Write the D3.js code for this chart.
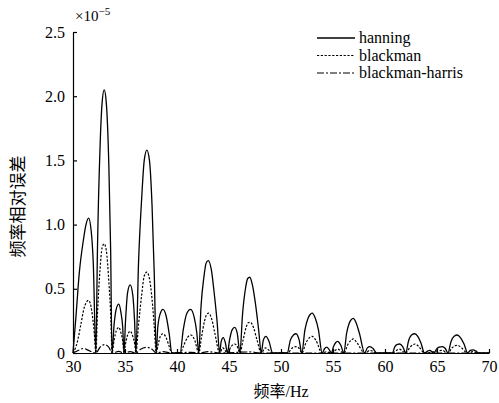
<!DOCTYPE html>
<html>
<head>
<meta charset="utf-8">
<script src="https://cdn.jsdelivr.net/npm/d3@7"></script>
<style>
  body { margin: 0; background: #fff; }
  text { font-family: "Liberation Serif", "Noto Sans CJK SC", serif; fill: #000; }
</style>
</head>
<body>
<script>
//---------------------------------- data (values in units of 1e-5)
var xTicks = [30, 35, 40, 45, 50, 55, 60, 65, 70];
var yTicks = [0, 0.5, 1.0, 1.5, 2.0, 2.5];
var seriesNames = ["hanning", "blackman", "blackman-harris"];

var hanning = [
  [30.0,0],[30.3,0.3],[30.6,0.62],[31.0,0.88],[31.25,1.0],[31.5,1.05],[31.75,0.95],[31.95,0.7],[32.2,0],
  [32.35,0.8],[32.6,1.6],[32.8,1.95],[33.0,2.05],[33.2,1.95],[33.45,1.45],[33.62,0.8],[33.75,0],
  [33.95,0.22],[34.15,0.34],[34.4,0.38],[34.6,0.32],[34.78,0.2],[34.9,0],
  [35.05,0.25],[35.25,0.47],[35.5,0.53],[35.75,0.45],[35.92,0.25],[36.05,0],
  [36.3,0.7],[36.6,1.2],[36.85,1.5],[37.1,1.58],[37.35,1.5],[37.6,1.15],[37.82,0.6],[38.0,0],
  [38.15,0.2],[38.4,0.31],[38.65,0.34],[38.95,0.29],[39.25,0.15],[39.5,0],[40.3,0],
  [40.6,0.18],[40.95,0.31],[41.3,0.34],[41.65,0.28],[41.9,0.16],[42.1,0],
  [42.3,0.35],[42.6,0.6],[42.8,0.7],[43.0,0.72],[43.3,0.65],[43.6,0.45],[43.85,0.25],[44.1,0],
  [44.25,0.09],[44.45,0.12],[44.65,0.08],[44.85,0],
  [45.05,0.1],[45.3,0.18],[45.55,0.2],[45.8,0.15],[46.05,0],
  [46.3,0.3],[46.6,0.51],[46.8,0.58],[47.0,0.59],[47.25,0.53],[47.55,0.38],[47.85,0.18],[48.1,0],
  [48.3,0.1],[48.55,0.13],[48.85,0.09],[49.2,0],[50.6,0],
  [50.9,0.1],[51.2,0.14],[51.45,0.15],[51.75,0.1],[52.0,0],
  [52.3,0.18],[52.6,0.27],[52.8,0.3],[53.0,0.31],[53.3,0.27],[53.6,0.18],[53.95,0],
  [54.2,0.035],[54.4,0.045],[54.6,0.03],[54.85,0],
  [55.05,0.05],[55.25,0.08],[55.45,0.09],[55.75,0.06],[56.05,0],
  [56.3,0.15],[56.55,0.23],[56.75,0.26],[56.95,0.27],[57.2,0.24],[57.55,0.15],[58.05,0],
  [58.3,0.04],[58.55,0.05],[58.85,0.035],[59.2,0],[60.7,0],
  [60.95,0.05],[61.2,0.068],[61.4,0.07],[61.7,0.05],[62.0,0],
  [62.25,0.09],[62.55,0.14],[62.85,0.15],[63.15,0.13],[63.45,0.08],[63.8,0],
  [64.1,0.015],[64.3,0.02],[64.7,0],
  [64.95,0.03],[65.2,0.045],[65.5,0.05],[65.8,0.035],[66.05,0],
  [66.35,0.09],[66.65,0.13],[66.95,0.14],[67.25,0.12],[67.6,0.07],[67.95,0],
  [68.2,0.02],[68.45,0.025],[68.75,0.015],[69.0,0],[70.0,0]
];

var blackman = [
  [30.0,0],[30.4,0.08],[30.75,0.22],[31.1,0.36],[31.5,0.41],[31.8,0.33],[32.05,0.15],[32.2,0],
  [32.35,0.3],[32.6,0.65],[32.8,0.82],[33.0,0.85],[33.2,0.8],[33.45,0.55],[33.65,0.25],[33.75,0],
  [33.95,0.1],[34.15,0.17],[34.4,0.2],[34.6,0.16],[34.8,0.08],[34.9,0],
  [35.05,0.07],[35.25,0.14],[35.5,0.17],[35.75,0.13],[35.95,0.06],[36.05,0],
  [36.3,0.22],[36.6,0.45],[36.85,0.6],[37.1,0.63],[37.35,0.58],[37.6,0.42],[37.82,0.2],[38.0,0],
  [38.2,0.07],[38.4,0.13],[38.65,0.15],[38.95,0.12],[39.25,0.05],[39.5,0],[40.3,0],
  [40.65,0.06],[41.0,0.12],[41.35,0.14],[41.7,0.1],[42.1,0],
  [42.35,0.12],[42.65,0.25],[42.85,0.3],[43.05,0.31],[43.35,0.26],[43.65,0.15],[44.1,0],
  [44.4,0.04],[44.85,0],[45.2,0.05],[45.55,0.07],[45.8,0.05],[46.05,0],
  [46.35,0.1],[46.65,0.2],[46.85,0.235],[47.05,0.24],[47.35,0.2],[47.7,0.1],[48.1,0],
  [48.5,0.04],[49.2,0],[50.6,0],
  [51.1,0.04],[51.45,0.05],[51.8,0.03],[52.0,0],
  [52.4,0.08],[52.75,0.12],[53.0,0.13],[53.35,0.1],[53.95,0],
  [54.4,0.01],[54.8,0],[55.45,0.03],[56.05,0],
  [56.45,0.07],[56.75,0.1],[56.95,0.11],[57.3,0.08],[58.05,0],
  [58.55,0.02],[59.2,0],[60.7,0],
  [61.35,0.03],[62.0,0],
  [62.4,0.045],[62.7,0.065],[62.9,0.07],[63.25,0.05],[63.8,0],
  [65.5,0.02],[66.05,0],
  [66.45,0.04],[66.75,0.058],[66.95,0.06],[67.3,0.045],[67.95,0],
  [68.45,0.01],[69.0,0],[70.0,0]
];

var blackmanHarris = [
  [30.0,0],[30.5,0.02],[31.0,0.035],[31.5,0.02],[32.2,0],
  [32.6,0.045],[33.0,0.065],[33.4,0.05],[33.8,0],
  [34.4,0.012],[34.9,0],[35.5,0.01],[36.05,0],
  [36.5,0.03],[37.1,0.045],[37.6,0.03],[38.0,0],
  [38.65,0.01],[39.5,0],[41.35,0.005],[42.1,0],
  [43.0,0.01],[44.1,0],[47.0,0.008],[48.1,0],[70.0,0]
];

//---------------------------------- chart
var ancho = 499, alto = 403;
var margenes = {top: 32, left: 73, right: 10, bottom: 50};
var w = ancho - margenes.left - margenes.right;
var h = alto - margenes.top - margenes.bottom;

var svg = d3.select("body").append("svg")
  .attr("width", ancho)
  .attr("height", alto);

var x = d3.scaleLinear().domain([30, 70]).range([0, w]);
var y = d3.scaleLinear().domain([0, 2.5]).range([h, 0]);

var g = svg.append("g")
  .attr("transform", "translate(" + margenes.left + "," + margenes.top + ")");

var line = d3.line()
  .x(function (d) { return x(d[0]); })
  .y(function (d) { return y(d[1]); })
  .curve(d3.curveMonotoneX);

var estilos = [
  {data: hanning, dash: null, width: 1.3},
  {data: blackman, dash: "2.2,1.6", width: 1.2},
  {data: blackmanHarris, dash: "7,2,2,2", width: 1.2}
];

estilos.slice().reverse().forEach(function (s) {
  g.append("path")
    .datum(s.data)
    .attr("fill", "none")
    .attr("stroke", "#000")
    .attr("stroke-width", s.width)
    .attr("stroke-dasharray", s.dash)
    .attr("d", line);
});

// axes
var xAxis = g.append("g")
  .attr("transform", "translate(0," + h + ")")
  .call(d3.axisBottom(x).tickValues(xTicks).tickSizeInner(-4).tickSizeOuter(0).tickPadding(8));
var yAxis = g.append("g")
  .call(d3.axisLeft(y).tickValues(yTicks).tickSizeInner(-4).tickSizeOuter(0).tickPadding(8)
    .tickFormat(function (d) { return d === 0 ? "0" : d.toFixed(1); }));

[xAxis, yAxis].forEach(function (a) {
  a.selectAll("path, line").attr("stroke", "#000").attr("stroke-width", 1.2);
  a.selectAll("text").style("font-size", "16px")
    .style("font-family", "'Liberation Serif', serif");
});

// exponent label
var expo = svg.append("text")
  .attr("x", margenes.left + 2)
  .attr("y", 21)
  .style("font-size", "15px");
expo.append("tspan").text("\u00d710");
expo.append("tspan").attr("dy", -6).style("font-size", "11px").text("\u22125");

// axis titles
svg.append("text")
  .attr("x", margenes.left + w / 2)
  .attr("y", 397)
  .attr("text-anchor", "middle")
  .style("font-size", "16px")
  .text("频率/Hz");

svg.append("text")
  .attr("transform", "translate(24," + (margenes.top + h / 2 + 14) + ") rotate(-90)")
  .attr("text-anchor", "middle")
  .style("font-size", "17px")
  .text("频率相对误差");

// legend
var leg = svg.append("g").attr("transform", "translate(317,38)");
estilos.forEach(function (s, i) {
  var row = leg.append("g").attr("transform", "translate(0," + (i * 17.5) + ")");
  row.append("line")
    .attr("x1", 0).attr("x2", 38)
    .attr("y1", 0).attr("y2", 0)
    .attr("stroke", "#000")
    .attr("stroke-width", s.width)
    .attr("stroke-dasharray", s.dash);
  row.append("text")
    .attr("x", 42).attr("y", 5)
    .style("font-size", "16px")
    .text(seriesNames[i]);
});
</script>
</body>
</html>
